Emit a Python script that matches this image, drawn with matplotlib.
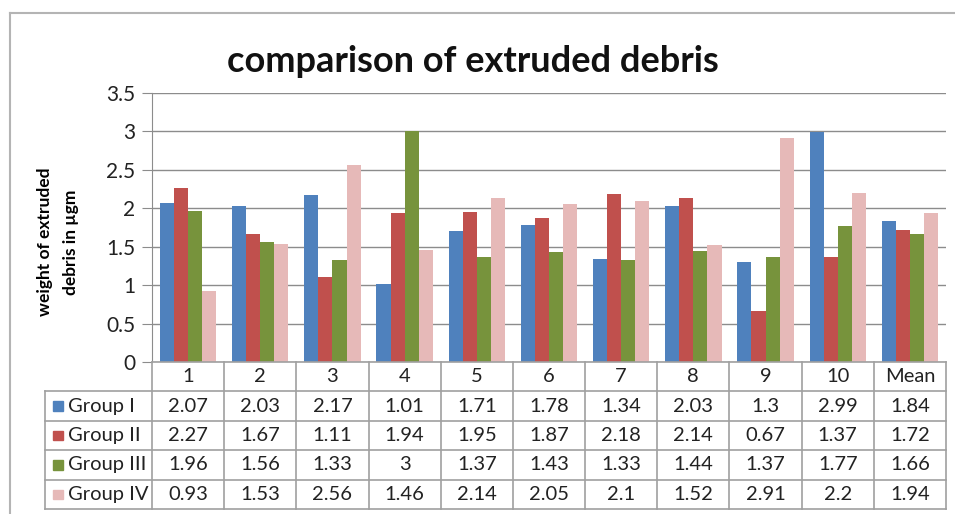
import numpy as np
import matplotlib
matplotlib.use("Agg")
import matplotlib.pyplot as plt
from matplotlib.lines import Line2D
from matplotlib.patches import Rectangle

plt.rcParams['font.family'] = ['Lato', 'DejaVu Sans']

categories = ["1", "2", "3", "4", "5", "6", "7", "8", "9", "10", "Mean"]
groups = ["Group I", "Group II", "Group III", "Group IV"]
group_1 = [2.07, 2.03, 2.17, 1.01, 1.71, 1.78, 1.34, 2.03, 1.3, 2.99, 1.84]
group_2 = [2.27, 1.67, 1.11, 1.94, 1.95, 1.87, 2.18, 2.14, 0.67, 1.37, 1.72]
group_3 = [1.96, 1.56, 1.33, 3, 1.37, 1.43, 1.33, 1.44, 1.37, 1.77, 1.66]
group_4 = [0.93, 1.53, 2.56, 1.46, 2.14, 2.05, 2.1, 1.52, 2.91, 2.2, 1.94]
series = [group_1, group_2, group_3, group_4]
colors = ["#4F81BD", "#C0504D", "#77933C", "#E6B9B8"]

W, H = 955, 514
fig = plt.figure(figsize=(W / 100, H / 100), dpi=100)

# outer chart frame (left and top edges only)
frame_c = "#b4b4b4"
fig.add_artist(Line2D([10 / W, 10 / W], [0, 1 - 13 / H], color=frame_c, lw=1.5))
fig.add_artist(Line2D([10 / W, 1], [1 - 13 / H, 1 - 13 / H], color=frame_c, lw=1.5))

# plot area
px0, px1, py0, py1 = 152, 946, 93, 362
ax = fig.add_axes([px0 / W, 1 - py1 / H, (px1 - px0) / W, (py1 - py0) / H])
n = len(categories)
x = np.arange(n) + 0.5
bw = 0.195
for k, vals in enumerate(series):
    ax.bar(x + (k - 1.5) * bw, vals, width=bw, color=colors[k], zorder=3)

ax.set_xlim(0, n)
ax.set_ylim(0, 3.5)
yt = [0, 0.5, 1, 1.5, 2, 2.5, 3, 3.5]
ax.set_yticks(yt)
ax.set_yticklabels([f"{v:g}" for v in yt], fontsize=15, color="#222222")
ax.set_xticks([])
ax.yaxis.grid(True, color="#8c8c8c", lw=1)
ax.set_axisbelow(True)
for s in ["top", "right", "bottom"]:
    ax.spines[s].set_visible(False)
ax.spines["left"].set_color("#8c8c8c")
ax.tick_params(axis="y", length=7, color="#8c8c8c", pad=5)

fig.text(473 / W, 1 - 62 / H, "comparison of extruded debris", fontsize=26,
         fontweight="bold", ha="center", va="center", color="#111111")
fig.text(58 / W, 1 - 242 / H, "weight of extruded\ndebris in µgm", fontsize=12.5,
         fontweight="bold", rotation=90, ha="center", va="center",
         multialignment="center", linespacing=1.7)

# data table under the chart
tx0, ty1 = 45, 509
tab = fig.add_axes([tx0 / W, 1 - ty1 / H, (px1 - tx0) / W, (ty1 - py1) / H])
lab = (px0 - tx0) / ((px1 - px0) / n)
tab.set_xlim(-lab, n)
tab.set_ylim(0, 5)
tab.axis("off")
lc = "#a0a0a0"
for r in range(5):
    tab.plot([-lab, n], [r, r], color=lc, lw=1.2, clip_on=False)
tab.plot([0, n], [5, 5], color=lc, lw=1.2, clip_on=False)
tab.plot([-lab, -lab], [0, 4], color=lc, lw=1.2, clip_on=False)
for c in range(n + 1):
    tab.plot([c, c], [0, 5], color=lc, lw=1.2, clip_on=False)

fs = 14.5
for i, cat in enumerate(categories):
    tab.text(i + 0.5, 4.5, cat, ha="center", va="center", fontsize=fs, color="#222222")
for k, vals in enumerate(series):
    yc = 3.5 - k
    tab.add_patch(Rectangle((-lab + 0.11, yc - 0.16), 0.14, 0.32, color=colors[k]))
    tab.text(-lab + 0.32, yc, groups[k], ha="left", va="center", fontsize=fs, color="#222222")
    for i, v in enumerate(vals):
        tab.text(i + 0.5, yc, f"{v:g}", ha="center", va="center", fontsize=fs, color="#222222")

fig.savefig("out.png", dpi=100)
